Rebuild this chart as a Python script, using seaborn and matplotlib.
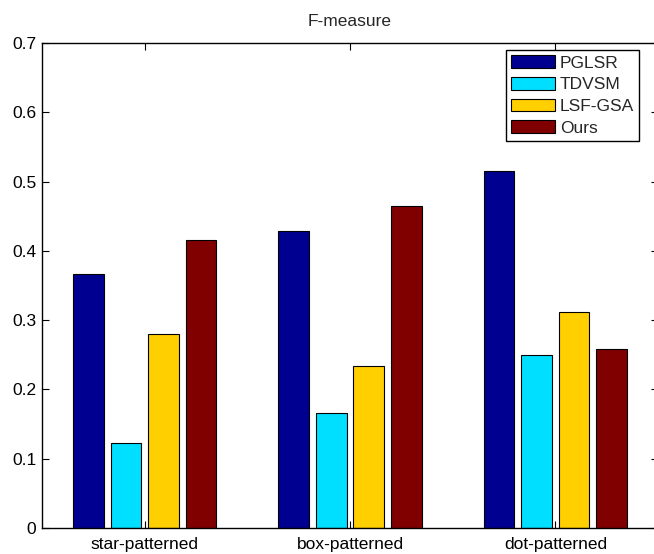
import matplotlib
matplotlib.use("Agg")
import matplotlib.pyplot as plt
import seaborn as sns
import pandas as pd

categories = ["star-patterned", "box-patterned", "dot-patterned"]
methods = ["PGLSR", "TDVSM", "LSF-GSA", "Ours"]
pglsr = [0.367, 0.428, 0.515]
tdvsm = [0.122, 0.166, 0.249]
lsfgsa = [0.280, 0.234, 0.312]
ours = [0.415, 0.465, 0.258]
yticks = [0, 0.1, 0.2, 0.3, 0.4, 0.5, 0.6, 0.7]
ytick_labels = ["0", "0.1", "0.2", "0.3", "0.4", "0.5", "0.6", "0.7"]
colors = ["#000090", "#00DFFF", "#FFCF00", "#800000"]

rows = []
for m, vals in zip(methods, [pglsr, tdvsm, lsfgsa, ours]):
    for c, v in zip(categories, vals):
        rows.append({"category": c, "method": m, "value": v})
df = pd.DataFrame(rows)

sns.set_theme(style="white")
plt.rcParams["font.family"] = ["Liberation Sans", "DejaVu Sans"]

FS = 12.5

fig = plt.figure(figsize=(6.54, 5.54), dpi=100)
ax = fig.add_axes([42 / 654, 26 / 554, 616 / 654, 485 / 554])

sns.barplot(data=df, x="category", y="value", hue="method",
            order=categories, hue_order=methods, palette=colors,
            width=0.73, gap=0.18, edgecolor="black", linewidth=0.8,
            saturation=1, errorbar=None, ax=ax)

ax.set_xlim(-0.5, 2.5)
ax.set_ylim(0, 0.7)
ax.set_yticks(yticks)
ax.set_yticklabels(ytick_labels)
ax.set_xlabel("")
ax.set_ylabel("")
ax.set_title("F-measure", fontsize=FS, pad=12)
ax.tick_params(axis="both", direction="in", length=5, width=0.8,
               top=True, right=True, bottom=True, left=True,
               labelsize=FS, colors="black", pad=4)
ax.tick_params(axis="x", pad=6.5)
for s in ax.spines.values():
    s.set_color("black")
    s.set_linewidth(1.0)
    s.set_visible(True)

leg = ax.legend(loc="upper left", bbox_to_anchor=(506 / 654, 1 - 50 / 554),
                bbox_transform=fig.transFigure, borderaxespad=0,
                fontsize=FS, frameon=True, fancybox=False, framealpha=1,
                edgecolor="black", handlelength=2.5, handleheight=0.75,
                handletextpad=0.3, labelspacing=0.36, borderpad=0.3)
leg.get_frame().set_linewidth(1.0)

fig.savefig("out.png", dpi=100)
